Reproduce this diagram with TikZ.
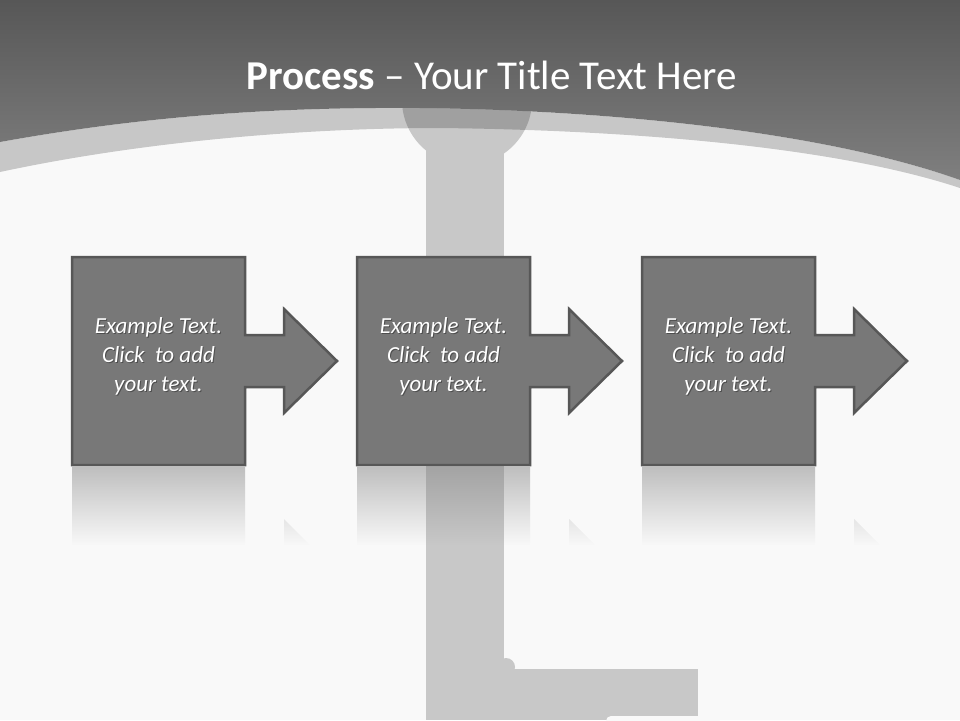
\documentclass[tikz,border=0pt]{standalone}
\usepackage{fontspec}
\setmainfont{Carlito}
\usepackage{tikz}
\usetikzlibrary{fadings}
\definecolor{slidec}{HTML}{F9F9F9}
\definecolor{headtopc}{HTML}{575757}
\definecolor{headbotc}{HTML}{7F7F7F}
\definecolor{pipec}{HTML}{C8C8C8}
\definecolor{stepc}{HTML}{787878}
\definecolor{stepedgec}{HTML}{575757}
\tikzfading[name=reflfade, top color=transparent!55, bottom color=transparent!100]
\tikzset{
  pipe/.style={fill=pipec},
  band/.style={fill=black, fill opacity=0.2},
  stepshape/.style={fill=stepc, draw=stepedgec, line width=2.5pt, line join=miter},
  reflection/.style={fill=stepc, path fading=reflfade},
  steptext/.style={text=white, align=center, font=\fontsize{23}{29}\selectfont\itshape},
  stepshadow/.style={steptext, text=black, text opacity=0.35},
  titletext/.style={text=white, font=\fontsize{41}{48}\selectfont},
}

\begin{document}
\begin{tikzpicture}[x=1pt,y=-1pt]
\fill[slidec] (0,0) rectangle (960,720);
\useasboundingbox (0,0) rectangle (960,720);
\fill[pipe] (467,100) circle (65);
\fill[pipe] (426,100) rectangle (504,720);
\fill[pipe] (504,669) rectangle (698,720);
\fill[pipe] (506,667) circle (9);
\fill[slidec, rounded corners=5pt] (606,716) rectangle (720,740);
\fill[band] (0,142) .. controls (150,115) and (280,107) .. (420,108) .. controls (600,110) and (820,130) .. (960,180) -- (960,188) .. controls (830,145) and (620,130) .. (440,128) .. controls (300,128) and (140,142) .. (0,172) -- cycle;
\shade[top color=headtopc, bottom color=headbotc] (0,0) -- (960,0) -- (960,180) .. controls (820,130) and (600,110) .. (420,108) .. controls (280,107) and (150,115) .. (0,142) -- cycle;
\node[titletext] (title) at (492,75) {\textbf{Process} -- Your Title Text Here};

\draw[stepshape] (72,257) -- (245,257) -- (245,335) -- (284,335) -- (284,309) -- (337,361) -- (284,413) -- (284,387) -- (245,387) -- (245,465) -- (72,465) -- cycle;
\fill[reflection] (72,467) -- (245,467) -- (245,545) -- (72,545) -- cycle (284,519) -- (310,545) -- (284,545) -- cycle;
\node[stepshadow] (step1s) at (159.5,357.5) {Example Text.\\Click~ to add\\your text.};
\node[steptext] (step1) at (158.5,356) {Example Text.\\Click~ to add\\your text.};

\draw[stepshape] (357,257) -- (530,257) -- (530,335) -- (569,335) -- (569,309) -- (622,361) -- (569,413) -- (569,387) -- (530,387) -- (530,465) -- (357,465) -- cycle;
\fill[reflection] (357,467) -- (530,467) -- (530,545) -- (357,545) -- cycle (569,519) -- (595,545) -- (569,545) -- cycle;
\node[stepshadow] (step2s) at (444.5,357.5) {Example Text.\\Click~ to add\\your text.};
\node[steptext] (step2) at (443.5,356) {Example Text.\\Click~ to add\\your text.};

\draw[stepshape] (642,257) -- (815,257) -- (815,335) -- (854,335) -- (854,309) -- (907,361) -- (854,413) -- (854,387) -- (815,387) -- (815,465) -- (642,465) -- cycle;
\fill[reflection] (642,467) -- (815,467) -- (815,545) -- (642,545) -- cycle (854,519) -- (880,545) -- (854,545) -- cycle;
\node[stepshadow] (step3s) at (729.5,357.5) {Example Text.\\Click~ to add\\your text.};
\node[steptext] (step3) at (728.5,356) {Example Text.\\Click~ to add\\your text.};
\end{tikzpicture}
\end{document}
